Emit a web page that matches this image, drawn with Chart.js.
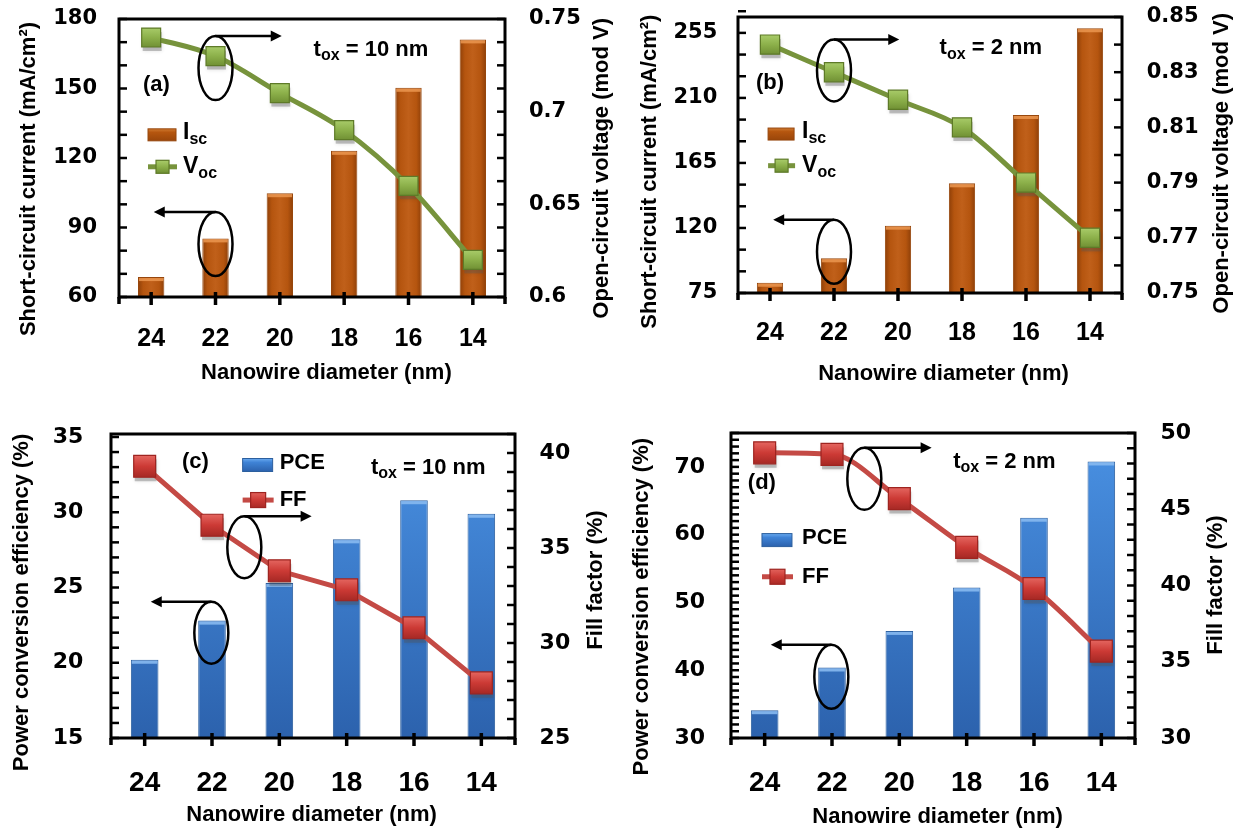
<!DOCTYPE html>
<html><head><meta charset="utf-8">
<script src="https://cdn.jsdelivr.net/npm/chart.js@4.4.1/dist/chart.umd.min.js"></script>
<style>
html,body{margin:0;padding:0;background:#fff;}
body{width:1242px;height:829px;position:relative;overflow:hidden;}
canvas{position:absolute;}
</style></head><body>
<canvas id="ca" width="620" height="400" style="left:0px;top:0px;width:620px;height:400px"></canvas>
<canvas id="cb" width="622" height="400" style="left:620px;top:0px;width:622px;height:400px"></canvas>
<canvas id="cc" width="620" height="419" style="left:0px;top:410px;width:620px;height:419px"></canvas>
<canvas id="cd" width="622" height="419" style="left:620px;top:410px;width:622px;height:419px"></canvas>
<script>
// ---------- data ----------
const diameters = ['24', '22', '20', '18', '16', '14'];
const iscA = [68.6, 85.3, 104.8, 123.1, 150.3, 171.2];
const vocA = [0.74, 0.73, 0.71, 0.69, 0.66, 0.62];
const iscB = [82.1, 99.0, 121.6, 150.9, 198.2, 258.2];
const vocB = [0.84, 0.83, 0.82, 0.81, 0.79, 0.77];
const pceC = [20.2, 22.8, 25.3, 28.2, 30.8, 29.9];
const ffC = [39.3, 36.2, 33.8, 32.8, 30.8, 27.9];
const pceD = [34.1, 40.4, 45.8, 52.2, 62.5, 70.8];
const ffD = [48.7, 48.6, 45.7, 42.5, 39.8, 35.7];
const ticksA_left = [60, 90, 120, 150, 180];
const ticksA_right = [0.6, 0.65, 0.7, 0.75];
const ticksB_left = [75, 120, 165, 210, 255];
const ticksB_right = [0.75, 0.77, 0.79, 0.81, 0.83, 0.85];
const ticksC_left = [15, 20, 25, 30, 35];
const ticksC_right = [25, 30, 35, 40];
const ticksD_left = [30, 40, 50, 60, 70];
const ticksD_right = [30, 35, 40, 45, 50];

const SANS = '"Liberation Sans", Arial, sans-serif';
const TICKF = '"DejaVu Sans", sans-serif';

const THEMES = {
  brown: { line: '#77933c', mFill: '#8cb04a', mLight: '#a9cc6a', mDark: '#6f8f33', mBorder: '#5e7a28', solid: '#b5560f', border: '#96460c', hi: 'rgba(235,150,80,0.85)' },
  blue: { line: '#c44a45', mFill: '#cc3a35', mLight: '#e2625c', mDark: '#a92a26', mBorder: '#9e2420', solid: '#3b7dd0', border: '#2c5f9e', hi: 'rgba(135,185,240,0.9)' }
};

function ok() { for (const a of arguments) if (!Number.isFinite(a)) return false; return true; }

function barFill(theme) {
  return (c) => {
    const ch = c.chart, xs = ch.scales && ch.scales.x, ca = ch.chartArea;
    if (!xs || !ca || c.dataIndex === undefined) return THEMES[theme].solid;
    if (theme === 'brown') {
      const cx = xs.getPixelForValue(c.dataIndex);
      const bw = (ca.right - ca.left) / diameters.length * 0.41;
      if (!ok(cx, bw) || bw <= 0) return THEMES[theme].solid;
      const g = ch.ctx.createLinearGradient(cx - bw / 2, 0, cx + bw / 2, 0);
      g.addColorStop(0, '#8e3f08'); g.addColorStop(0.2, '#b5550f'); g.addColorStop(0.5, '#c0601a');
      g.addColorStop(0.8, '#b5550f'); g.addColorStop(1, '#8e3f08');
      return g;
    }
    if (!ok(ca.top, ca.bottom)) return THEMES[theme].solid;
    const g = ch.ctx.createLinearGradient(0, ca.top, 0, ca.bottom);
    g.addColorStop(0, '#4a92e4'); g.addColorStop(1, '#2c62ad');
    return g;
  };
}

function markerFill(theme) {
  return (c) => {
    const T = THEMES[theme];
    const ch = c.chart, xs = ch.scales && ch.scales.x, ys = ch.scales && ch.scales.y1;
    if (!xs || !ys || c.dataIndex === undefined || typeof c.raw !== 'number') return T.mFill;
    const cy = ys.getPixelForValue(c.raw);
    if (!ok(cy)) return T.mFill;
    const g = ch.ctx.createLinearGradient(0, cy - 10, 0, cy + 10);
    g.addColorStop(0, T.mLight); g.addColorStop(0.5, T.mFill); g.addColorStop(1, T.mDark);
    return g;
  };
}

function subText(ctx, x, y, main, sub, rest, size, subSize, drop) {
  ctx.textAlign = 'left'; ctx.textBaseline = 'middle'; ctx.fillStyle = '#000';
  ctx.font = 'bold ' + size + 'px ' + SANS;
  ctx.fillText(main, x, y);
  let w = ctx.measureText(main).width;
  if (sub) {
    ctx.font = 'bold ' + subSize + 'px ' + SANS;
    ctx.fillText(sub, x + w, y + drop);
    w += ctx.measureText(sub).width;
  }
  if (rest) {
    ctx.font = 'bold ' + size + 'px ' + SANS;
    ctx.fillText(rest, x + w, y);
  }
}

function makeDecor(p) {
  const T = THEMES[p.theme];
  return {
    id: 'decor_' + p.id,
    beforeDatasetDraw(chart, args) {
      if (args.index !== 0) return;
      const ctx = chart.ctx, s = p.pr * Math.SQRT2;
      ctx.save();
      ctx.fillStyle = 'rgba(90,90,90,0.35)';
      ctx.shadowColor = 'rgba(0,0,0,0.35)'; ctx.shadowBlur = 4;
      args.meta.data.forEach(el => { ctx.fillRect(el.x - s / 2 + 1, el.y - s / 2 + 4, s, s); });
      ctx.restore();
    },
    afterDatasetDraw(chart, args) {
      if (args.index !== 1) return;
      const ctx = chart.ctx;
      ctx.save();
      ctx.fillStyle = T.hi;
      args.meta.data.forEach(el => {
        const w = el.width;
        ctx.fillRect(el.x - w / 2 + 1, el.y + 1, w - 2, 3);
      });
      ctx.restore();
    },
    afterDatasetsDraw(chart) {
      const ctx = chart.ctx, ca = chart.chartArea, xs = chart.scales.x, ys = chart.scales.y, y1 = chart.scales.y1;
      ctx.save();
      ctx.strokeStyle = '#000'; ctx.fillStyle = '#000';
      ctx.lineWidth = 3;
      ctx.strokeRect(ca.left, ca.top, ca.right - ca.left, ca.bottom - ca.top);
      ctx.lineWidth = 2.5;
      const nL = Math.round((p.yMax - p.yMin) / p.minorL + 1e-6);
      for (let i = 0; i <= nL; i++) {
        const py = ys.getPixelForValue(p.yMin + i * p.minorL);
        ctx.beginPath(); ctx.moveTo(ca.left, py); ctx.lineTo(ca.left + 8, py); ctx.stroke();
      }
      const nR = Math.round((p.y1Max - p.y1Min) / p.minorR + 1e-6);
      for (let i = 0; i <= nR; i++) {
        const py = y1.getPixelForValue(p.y1Min + i * p.minorR);
        ctx.beginPath(); ctx.moveTo(ca.right, py); ctx.lineTo(ca.right - 8, py); ctx.stroke();
      }
      ctx.lineWidth = 3.5;
      diameters.forEach((d, i) => {
        const px = xs.getPixelForValue(i);
        ctx.beginPath(); ctx.moveTo(px, ca.bottom - 5); ctx.lineTo(px, ca.bottom + 8); ctx.stroke();
      });
      [ca.left, ca.right].forEach(px => { ctx.beginPath(); ctx.moveTo(px, ca.bottom); ctx.lineTo(px, ca.bottom + 7); ctx.stroke(); });
      ctx.lineWidth = 2.5;
      p.ellipses.forEach(e => {
        const cx = xs.getPixelForValue(e.x), cy = ys.getPixelForValue(e.y);
        ctx.beginPath(); ctx.ellipse(cx, cy, 17, e.ry, 0, 0, Math.PI * 2); ctx.stroke();
        const ay = cy - e.ry, x1 = xs.getPixelForValue(e.to), dir = Math.sign(x1 - cx);
        ctx.beginPath(); ctx.moveTo(cx, ay); ctx.lineTo(x1 - dir * 8, ay); ctx.stroke();
        ctx.beginPath(); ctx.moveTo(x1, ay); ctx.lineTo(x1 - dir * 11, ay - 5.5); ctx.lineTo(x1 - dir * 11, ay + 5.5); ctx.closePath(); ctx.fill();
      });
      ctx.font = 'bold 22px ' + SANS; ctx.textAlign = 'left'; ctx.textBaseline = 'middle';
      ctx.fillText(p.tag.text, xs.getPixelForValue(p.tag.x), ys.getPixelForValue(p.tag.y));
      subText(ctx, xs.getPixelForValue(p.tox.x), ys.getPixelForValue(p.tox.y), 't', 'ox', p.tox.rest, 22, 16, 6);
      // legend
      const L = p.legend;
      const lx = xs.getPixelForValue(L.x);
      const by = ys.getPixelForValue(L.barY);
      let g = ctx.createLinearGradient(0, by - L.rh / 2, 0, by + L.rh / 2);
      if (p.theme === 'brown') {
        g.addColorStop(0, '#d07a30'); g.addColorStop(0.3, '#b5560f'); g.addColorStop(1, '#9a460a');
      } else {
        g.addColorStop(0, '#6aaaf0'); g.addColorStop(0.3, '#3f83d6'); g.addColorStop(1, '#2c62ad');
      }
      ctx.fillStyle = g;
      ctx.fillRect(lx, by - L.rh / 2, L.rw, L.rh);
      ctx.lineWidth = 1; ctx.strokeStyle = T.border;
      ctx.strokeRect(lx, by - L.rh / 2, L.rw, L.rh);
      subText(ctx, lx + L.textDx, by - 2, L.bar[0], L.bar[1], '', L.font, 16, 7);
      const ly = ys.getPixelForValue(L.lineY);
      ctx.strokeStyle = T.line; ctx.lineWidth = 5;
      ctx.beginPath(); ctx.moveTo(lx, ly); ctx.lineTo(lx + L.rw + 1, ly); ctx.stroke();
      const mc = lx + (L.rw + 1) / 2;
      const mg = ctx.createLinearGradient(0, ly - L.ms / 2, 0, ly + L.ms / 2);
      mg.addColorStop(0, T.mLight); mg.addColorStop(0.5, T.mFill); mg.addColorStop(1, T.mDark);
      ctx.fillStyle = mg; ctx.fillRect(mc - L.ms / 2, ly - L.ms / 2, L.ms, L.ms);
      ctx.strokeStyle = T.mBorder; ctx.lineWidth = 1.2; ctx.strokeRect(mc - L.ms / 2, ly - L.ms / 2, L.ms, L.ms);
      subText(ctx, lx + L.textDx, ly, L.line[0], L.line[1], '', L.font, 16, 7);
      // axis titles
      ctx.fillStyle = '#000';
      ctx.font = 'bold 22px ' + SANS;
      ctx.textAlign = 'center'; ctx.textBaseline = 'middle';
      ctx.fillText(p.titles.x[0], p.titles.x[1], p.titles.x[2]);
      [p.titles.left, p.titles.right].forEach(t => {
        ctx.save(); ctx.translate(t[1], t[2]); ctx.rotate(-Math.PI / 2);
        ctx.fillText(t[0], 0, 0); ctx.restore();
      });
      ctx.restore();
    }
  };
}

function fmt(v) { return String(+(+v).toFixed(4)); }

function makePanel(p) {
  const T = THEMES[p.theme];
  const cv = document.getElementById(p.id);
  new Chart(cv, {
    type: 'bar',
    data: {
      labels: diameters,
      datasets: [
        {
          type: 'line', label: p.lineLabel, data: p.line, yAxisID: 'y1', order: 0,
          borderColor: T.line, borderWidth: 5,
          cubicInterpolationMode: p.smooth ? 'monotone' : 'default', tension: 0,
          pointStyle: 'rect', pointRadius: p.pr, pointHoverRadius: p.pr,
          pointBackgroundColor: markerFill(p.theme), pointBorderColor: T.mBorder, pointBorderWidth: 1.2
        },
        {
          type: 'bar', label: p.barLabel, data: p.bar, yAxisID: 'y', order: 1,
          backgroundColor: barFill(p.theme), borderColor: T.border, borderWidth: 1,
          barPercentage: 0.41, categoryPercentage: 1
        }
      ]
    },
    options: {
      responsive: false, animation: false, devicePixelRatio: 1,
      layout: { autoPadding: false, padding: { top: p.area[1], left: 0, right: 0, bottom: 0 } },
      plugins: { legend: { display: false }, tooltip: { enabled: false } },
      events: [],
      scales: {
        x: {
          offset: true,
          grid: { display: false, drawTicks: false }, border: { display: false },
          ticks: { color: '#000', font: { family: SANS, weight: 'bold', size: p.xFont }, padding: p.xPad, maxRotation: 0, autoSkip: false },
          afterFit: s => { s.height = p.h - p.area[3]; }
        },
        y: {
          position: 'left', min: p.yMin, max: p.yMax,
          grid: { display: false, drawTicks: false }, border: { display: false },
          ticks: { color: '#000', font: { family: TICKF, weight: 'bold', size: p.yFont }, padding: p.lPad, callback: fmt },
          afterBuildTicks: s => { s.ticks = p.yTicks.map(v => ({ value: v })); },
          afterFit: s => { s.width = p.area[0]; s.paddingTop = 0; s.paddingBottom = 0; }
        },
        y1: {
          position: 'right', min: p.y1Min, max: p.y1Max,
          grid: { display: false, drawTicks: false }, border: { display: false },
          ticks: { color: '#000', font: { family: TICKF, weight: 'bold', size: p.yFont }, padding: p.rPad, callback: fmt },
          afterBuildTicks: s => { s.ticks = p.y1Ticks.map(v => ({ value: v })); },
          afterFit: s => { s.width = p.w - p.area[2]; s.paddingTop = 0; s.paddingBottom = 0; }
        }
      }
    },
    plugins: [makeDecor(p)]
  });
}

makePanel({
  id: 'ca', w: 620, h: 400, area: [119, 19, 505, 297],
  bar: iscA, line: vocA, barLabel: 'Isc', lineLabel: 'Voc',
  yMin: 60, yMax: 180, yTicks: ticksA_left, y1Min: 0.6, y1Max: 0.75, y1Ticks: ticksA_right,
  minorL: 10, minorR: 0.0125, theme: 'brown', smooth: true, pr: 13.4,
  yFont: 21, xFont: 25, xPad: 27, lPad: 22, rPad: 24,
  titles: { left: ['Short-circuit current (mA/cm²)', 28.6, 179], right: ['Open-circuit voltage (mod V)', 601.6, 168.3], x: ['Nanowire diameter (nm)', 326.4, 373] },
  ellipses: [{ x: 1, y: 158.8, ry: 32, to: 2.03 }, { x: 1, y: 82.9, ry: 32, to: 0.04 }],
  tag: { text: '(a)', x: -0.127, y: 151.5 },
  tox: { x: 2.525, y: 166.6, rest: ' = 10 nm' },
  legend: { x: -0.049, barY: 130, lineY: 116.2, bar: ['I', 'sc'], line: ['V', 'oc'], rw: 28, rh: 12, ms: 13, font: 23, textDx: 35 }
});

makePanel({
  id: 'cb', w: 622, h: 400, area: [118, 17, 502, 293],
  bar: iscB, line: vocB, barLabel: 'Isc', lineLabel: 'Voc',
  yMin: 75, yMax: 266, yTicks: ticksB_left, y1Min: 0.75, y1Max: 0.85, y1Ticks: ticksB_right,
  minorL: 15, minorR: 0.01, theme: 'brown', smooth: true, pr: 13.6,
  yFont: 21, xFont: 25, xPad: 25.3, lPad: 20.7, rPad: 24.7,
  titles: { left: ['Short-circuit current (mA/cm²)', 29.6, 171.7], right: ['Open-circuit voltage (mod V)', 601.5, 163.3], x: ['Nanowire diameter (nm)', 323.5, 374] },
  ellipses: [{ x: 1, y: 229.0, ry: 31, to: 2.02 }, { x: 1, y: 103.6, ry: 32, to: 0.05 }],
  tag: { text: '(b)', x: -0.22, y: 220.5 },
  tox: { x: 2.65, y: 244.3, rest: ' = 2 nm' },
  legend: { x: -0.03, barY: 185, lineY: 163.1, bar: ['I', 'sc'], line: ['V', 'oc'], rw: 26, rh: 12, ms: 13, font: 23, textDx: 34 }
});

makePanel({
  id: 'cc', w: 620, h: 419, area: [111, 24, 515, 328],
  bar: pceC, line: ffC, barLabel: 'PCE', lineLabel: 'FF',
  yMin: 15, yMax: 35.2, yTicks: ticksC_left, y1Min: 25, y1Max: 41, y1Ticks: ticksC_right,
  minorL: 1, minorR: 1, theme: 'blue', smooth: false, pr: 15.5,
  yFont: 22, xFont: 28, xPad: 28.5, lPad: 27.7, rPad: 24.6,
  titles: { left: ['Power conversion efficiency (%)', 21.7, 192.5], right: ['Fill factor (%)', 595.7, 170], x: ['Nanowire diameter (nm)', 311.6, 405] },
  ellipses: [{ x: 1.48, y: 27.68, ry: 31, to: 2.48 }, { x: 0.99, y: 21.99, ry: 31, to: 0.09 }],
  tag: { text: '(c)', x: 0.555, y: 33.36 },
  tox: { x: 3.36, y: 32.94, rest: ' = 10 nm' },
  legend: { x: 1.455, barY: 33.14, lineY: 30.81, bar: ['PCE', ''], line: ['FF', ''], rw: 30, rh: 13, ms: 15, font: 22, textDx: 37 }
});

makePanel({
  id: 'cd', w: 622, h: 419, area: [111, 23, 515, 328],
  bar: pceD, line: ffD, barLabel: 'PCE', lineLabel: 'FF',
  yMin: 30, yMax: 75, yTicks: ticksD_left, y1Min: 30, y1Max: 50, y1Ticks: ticksD_right,
  minorL: 1, minorR: 1, theme: 'blue', smooth: true, pr: 15.5,
  yFont: 22, xFont: 28, xPad: 28.5, lPad: 26, rPad: 25.4,
  titles: { left: ['Power conversion efficiency (%)', 21.7, 196.7], right: ['Fill factor (%)', 595.7, 175], x: ['Nanowire diameter (nm)', 317.6, 406.7] },
  ellipses: [{ x: 1.48, y: 68.24, ry: 31, to: 2.48 }, { x: 0.99, y: 39.04, ry: 32, to: 0.09 }],
  tag: { text: '(d)', x: -0.25, y: 67.57 },
  tox: { x: 2.80, y: 70.75, rest: ' = 2 nm' },
  legend: { x: -0.04, barY: 59.2, lineY: 53.79, bar: ['PCE', ''], line: ['FF', ''], rw: 30, rh: 13, ms: 15, font: 22, textDx: 40 }
});
</script>
</body></html>
